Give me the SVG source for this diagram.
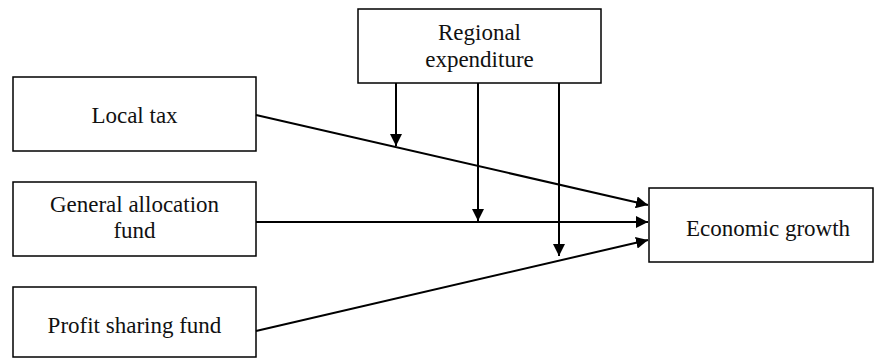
<svg xmlns="http://www.w3.org/2000/svg" width="877" height="360" viewBox="0 0 877 360">
<style>
.box{fill:#fff;stroke:#000;stroke-width:1.5}
.t{font-size:23px;fill:#111;text-anchor:middle}
.c{stroke:#000;stroke-width:2;fill:none;marker-end:url(#ah)}
</style>
<defs>
<marker id="ah" viewBox="0 0 10 10" refX="10" refY="5" markerWidth="6" markerHeight="6" markerUnits="strokeWidth" orient="auto">
<path d="M0,0 L10,5 L0,10 z" fill="#000"/>
</marker>
</defs>
<rect width="877" height="360" fill="#fff"/>
<g font-family="Liberation Serif, DejaVu Serif, serif">
<g id="regional"><rect class="box" x="358" y="9" width="243" height="74"/><text class="t" x="479.5" y="40">Regional</text><text class="t" x="479.5" y="67">expenditure</text></g>
<g id="localtax"><rect class="box" x="13" y="77" width="243" height="74"/><text class="t" x="134.5" y="123">Local tax</text></g>
<g id="general"><rect class="box" x="13" y="182" width="243" height="74"/><text class="t" x="134.5" y="212">General allocation</text><text class="t" x="134.5" y="238">fund</text></g>
<g id="profit"><rect class="box" x="13" y="287" width="243" height="70"/><text class="t" x="134.5" y="333">Profit sharing fund</text></g>
<g id="growth"><rect class="box" x="649" y="188" width="224" height="74"/><text class="t" x="768" y="236">Economic growth</text></g>
</g>
<g id="connectors">
<line class="c" x1="256" y1="115" x2="648" y2="205"/>
<line class="c" x1="256" y1="222" x2="648" y2="222"/>
<line class="c" x1="256" y1="331" x2="648" y2="240"/>
<line class="c" x1="396" y1="83" x2="396" y2="146"/>
<line class="c" x1="478" y1="83" x2="478" y2="221"/>
<line class="c" x1="559" y1="83" x2="559" y2="256"/>
</g>
</svg>
